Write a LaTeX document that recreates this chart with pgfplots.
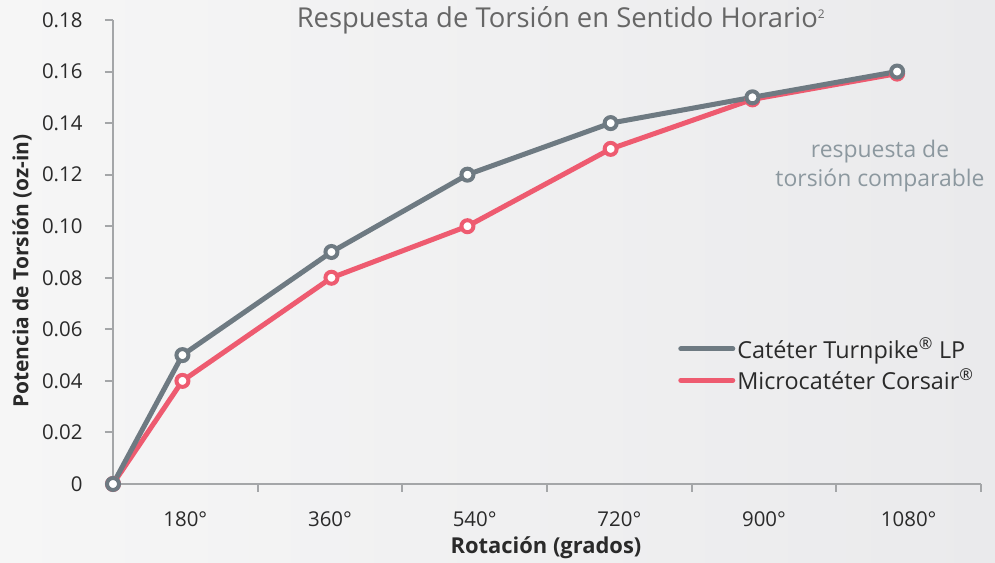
\documentclass[border=0pt]{standalone}
\usepackage{fontspec}
\setmainfont{Open Sans}
\usepackage{pgfplots}
\pgfplotsset{compat=1.18}
\definecolor{bgL}{HTML}{F6F6F6}
\definecolor{bgR}{HTML}{EAEAEC}
\definecolor{tgray}{HTML}{6E7A82}
\definecolor{tred}{HTML}{EE5B70}
\definecolor{axgray}{HTML}{A4A6A8}
\definecolor{txt}{HTML}{2A2A2A}
\definecolor{ttl}{HTML}{666666}
\definecolor{note}{HTML}{8C989F}
\begin{document}
\begin{tikzpicture}[x=1bp,y=1bp]
\path[use as bounding box, left color=bgL, right color=bgR] (0,0) rectangle (995,563);
\begin{axis}[
  at={(113bp,79bp)}, anchor=south west,
  scale only axis, width=868bp, height=464bp,
  xmin=0, xmax=6, ymin=0, ymax=0.18,
  clip=false,
  axis x line*=bottom, axis y line*=left,
  axis line style={axgray, line width=2.5bp},
  xtick={1,2,3,4,5,6}, xticklabels={},
  extra x ticks={0.5,1.5,2.5,3.5,4.5,5.5},
  extra x tick labels={180°,360°,540°,720°,900°,1080°},
  extra x tick style={major tick length=0pt, tick label style={yshift=-24bp}},
  ytick={0,0.02,0.04,0.06,0.08,0.10,0.12,0.14,0.16,0.18},
  yticklabels={0,0.02,0.04,0.06,0.08,0.10,0.12,0.14,0.16,0.18},
  y tick label style={xshift=-19bp},
  tick align=outside, major tick length=8bp,
  tick style={axgray, line width=2bp},
  tick label style={font=\fontsize{20.5}{24}\selectfont, text=txt},
  /pgf/number format/assume math mode=true,
  reverse legend,
  legend style={at={(rel axis cs:0.651,0.32)}, anchor=north west, draw=none, fill=none,
    font=\fontsize{23.5}{27}\selectfont, text=txt, row sep=5bp, inner sep=0pt,
    nodes={inner sep=2bp}},
  legend cell align=left,
  legend image code/.code={\draw[#1, line width=5bp, line cap=round] (0bp,0bp) -- (52bp,0bp);},
]
\addplot[tred, line width=5bp, mark=*, mark size=6bp,
  mark options={fill=white, draw=tred, line width=4bp}]
  coordinates {(0,0) (0.48,0.04) (1.51,0.08) (2.45,0.10) (3.44,0.13) (4.42,0.1492) (5.42,0.1592)};
\addlegendentry{Microcatéter Corsair\textsuperscript{®}}
\addplot[tgray, line width=5bp, mark=*, mark size=6bp,
  mark options={fill=white, draw=tgray, line width=4bp}]
  coordinates {(0,0) (0.48,0.05) (1.51,0.09) (2.45,0.12) (3.44,0.14) (4.42,0.15) (5.42,0.16)};
\addlegendentry{Catéter Turnpike\textsuperscript{®} LP}
\end{axis}
\node[font=\fontsize{27.5}{31}\selectfont, text=ttl] at (561,543) {Respuesta de Torsión en Sentido Horario\textsuperscript{\fontsize{12}{14}\selectfont 2}};
\node[font=\bfseries\fontsize{22}{26}\selectfont, text=txt] at (546,15) {Rotación (grados)};
\node[font=\bfseries\fontsize{21}{25}\selectfont, text=txt, rotate=90] at (22,292) {Potencia de Torsión (oz-in)};
\node[font=\fontsize{23}{30}\selectfont, text=note, align=center] at (880,397) {respuesta de\\torsión comparable};
\end{tikzpicture}
\end{document}
